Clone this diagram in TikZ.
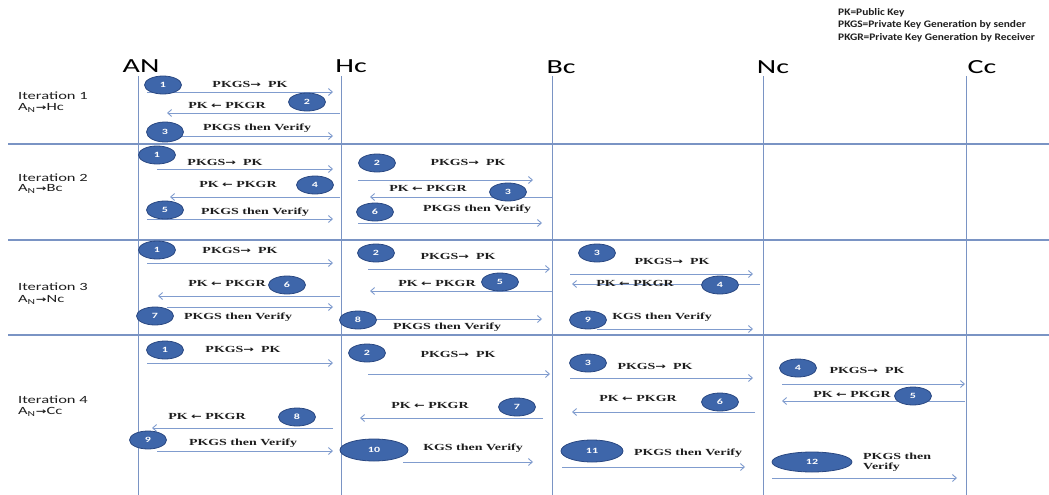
\documentclass[tikz,border=0pt]{standalone}
\usepackage{fontspec}
\setmainfont{Carlito}
\newfontfamily\msgfont{Liberation Serif}
\newfontfamily\djv{DejaVu Sans}
\usetikzlibrary{shapes.geometric,arrows.meta}
\newcommand{\hs}[1]{\scalebox{1.5}[1]{#1}}
\newcommand{\arr}[1]{{\djv\bfseries\fontsize{8.5}{8.5}\selectfont #1}}
\newcommand{\pka}{\hs{PKGS\arr{→}\enspace PK}}
\newcommand{\pkb}{\hs{PK \arr{←} PKGR}}
\newcommand{\pkc}{\hs{PKGS then Verify}}
\newcommand{\itl}[1]{\hs{A\textsubscript{N}{\djv\bfseries\fontsize{8.5}{8.5}\selectfont →}#1}}
\newcommand{\legsc}[1]{\scalebox{1.14}[1]{#1}}
\definecolor{linecol}{RGB}{122,148,196}
\definecolor{arrowcol}{RGB}{128,156,206}
\definecolor{badgefill}{RGB}{62,102,170}
\definecolor{badgedraw}{RGB}{42,72,130}
\definecolor{txt}{RGB}{30,30,30}
\tikzset{
  badge/.style={ellipse, fill=badgefill, draw=badgedraw, line width=0.8pt,
    minimum width=37pt, minimum height=18pt, inner sep=0pt, text=white,
    font=\bfseries\fontsize{8}{8}\selectfont},
  lbl/.style={font=\msgfont\bfseries\fontsize{9.3}{10}\selectfont, inner sep=0pt, text=txt},
  msg/.style={draw=arrowcol, line width=0.9pt, -{Straight Barb[length=4pt,width=7pt]}},
  life/.style={draw=linecol, line width=1pt},
  sep/.style={draw=linecol, line width=1.3pt},
  head/.style={font=\fontsize{20}{20}\selectfont, inner sep=0pt},
  itn/.style={font=\fontsize{11}{11}\selectfont, anchor=west, inner sep=0pt, text=txt},
  leg/.style={font=\bfseries\fontsize{10}{10}\selectfont, anchor=west, inner sep=0pt, text=txt}
}
\begin{document}
\begin{tikzpicture}[x=1pt,y=-1pt]
\useasboundingbox (0,0) rectangle (1049,495);
% legend
\node[leg] (l1) at (838,13) {\legsc{PK=Public Key}};
\node[leg] (l2) at (838,25) {\legsc{PKGS=Private Key Generation by sender}};
\node[leg] (l3) at (838,38) {\legsc{PKGR=Private Key Generation by Receiver}};
% headers
\node[head] (hAN) at (141,66) {\hs{AN}};
\node[head] (hHc) at (351,66) {\hs{Hc}};
\node[head] (hBc) at (561,67) {\hs{Bc}};
\node[head] (hNc) at (773,67) {\hs{Nc}};
\node[head] (hCc) at (982,67) {\hs{Cc}};
% lifelines
\path (138,76) coordinate (ANt) (138,495) coordinate (ANb)
      (341,76) coordinate (Hct) (341,495) coordinate (Hcb)
      (552,76) coordinate (Bct) (552,495) coordinate (Bcb)
      (763,76) coordinate (Nct) (763,495) coordinate (Ncb)
      (966,76) coordinate (Cct) (966,495) coordinate (Ccb);
\draw[life] (ANt) -- (ANb);
\draw[life] (Hct) -- (Hcb);
\draw[life] (Bct) -- (Bcb);
\draw[life] (Nct) -- (Ncb);
\draw[life] (Cct) -- (Ccb);
% separators
\path (8,144) coordinate (s1l) (1049,144) coordinate (s1r)
      (8,240) coordinate (s2l) (1049,240) coordinate (s2r)
      (8,335) coordinate (s3l) (1049,335) coordinate (s3r);
\draw[sep] (s1l) -- (s1r);
\draw[sep] (s2l) -- (s2r);
\draw[sep] (s3l) -- (s3r);
% iteration labels
\node[itn] (it1) at (18,96) {\hs{Iteration 1}};
\node[itn] (it1b) at (18,108) {\itl{Hc}};
\node[itn] (it2) at (18,178) {\hs{Iteration 2}};
\node[itn] (it2b) at (18,189) {\itl{Bc}};
\node[itn] (it3) at (18,287) {\hs{Iteration 3}};
\node[itn] (it3b) at (18,300) {\itl{Nc}};
\node[itn] (it4) at (18,400) {\hs{Iteration 4}};
\node[itn] (it4b) at (18,412) {\itl{Cc}};
% message end points
\path (147,92) coordinate (m1as) (333,92) coordinate (m1ae)
      (340,113) coordinate (m1bs) (167,113) coordinate (m1be)
      (148,136) coordinate (m1cs) (333,136) coordinate (m1ce)
      (157,169) coordinate (m2as) (333,169) coordinate (m2ae)
      (340,197) coordinate (m2bs) (170,197) coordinate (m2be)
      (147,219) coordinate (m2cs) (333,219) coordinate (m2ce)
      (358,180) coordinate (m2ds) (533,180) coordinate (m2de)
      (552,197) coordinate (m2es) (370,197) coordinate (m2ee)
      (358,223) coordinate (m2fs) (542,223) coordinate (m2fe)
      (147,263) coordinate (m3as) (333,263) coordinate (m3ae)
      (340,296) coordinate (m3bs) (158,296) coordinate (m3be)
      (167,307) coordinate (m3cs) (333,307) coordinate (m3ce)
      (368,269) coordinate (m3ds) (550,269) coordinate (m3de)
      (552,291) coordinate (m3es) (370,291) coordinate (m3ee)
      (368,319) coordinate (m3fs) (542,319) coordinate (m3fe)
      (570,274) coordinate (m3gs) (753,274) coordinate (m3ge)
      (760,284) coordinate (m3hs) (572,284) coordinate (m3he)
      (597,329) coordinate (m3is) (753,329) coordinate (m3ie)
      (147,363) coordinate (m4as) (333,363) coordinate (m4ae)
      (333,428) coordinate (m4bs) (152,428) coordinate (m4be)
      (157,451) coordinate (m4cs) (333,451) coordinate (m4ce)
      (368,374) coordinate (m4ds) (550,374) coordinate (m4de)
      (543,418) coordinate (m4es) (360,418) coordinate (m4ee)
      (403,462) coordinate (m4fs) (533,462) coordinate (m4fe)
      (570,378) coordinate (m4gs) (753,378) coordinate (m4ge)
      (755,412) coordinate (m4hs) (572,412) coordinate (m4he)
      (562,467) coordinate (m4is) (745,467) coordinate (m4ie)
      (782,384) coordinate (m4js) (965,384) coordinate (m4je)
      (965,401) coordinate (m4ks) (782,401) coordinate (m4ke)
      (772,478) coordinate (m4ls) (957,478) coordinate (m4le);
\foreach \m in {m1a,m1b,m1c,m2a,m2b,m2c,m2d,m2e,m2f,m3a,m3b,m3c,m3d,m3e,m3f,m3g,m3h,m3i,
                m4a,m4b,m4c,m4d,m4e,m4f,m4g,m4h,m4i,m4j,m4k,m4l}
  \draw[msg] (\m s) -- (\m e);
% labels
\node[lbl] (t1a) at (250,84) {\pka};
\node[lbl] (t1b) at (227,105) {\pkb};
\node[lbl] (t1c) at (257,128) {\pkc};
\node[lbl] (t2a) at (225,162) {\pka};
\node[lbl] (t2b) at (238,184) {\pkb};
\node[lbl] (t2c) at (255,212) {\pkc};
\node[lbl] (t2d) at (468,162) {\pka};
\node[lbl] (t2e) at (428,188) {\pkb};
\node[lbl] (t2f) at (477,209) {\pkc};
\node[lbl] (t3a) at (240,250) {\pka};
\node[lbl] (t3b) at (227,283) {\pkb};
\node[lbl] (t3c) at (238,317) {\pkc};
\node[lbl] (t3d) at (458,256) {\pka};
\node[lbl] (t3e) at (437,283) {\pkb};
\node[lbl] (t3f) at (447,327) {\pkc};
\node[lbl] (t3g) at (672,261) {\pka};
\node[lbl] (t3h) at (635,283) {\pkb};
\node[lbl] (t3i) at (662,317) {\hs{KGS then Verify}};
\node[lbl] (t4a) at (243,349) {\pka};
\node[lbl] (t4b) at (207,416) {\pkb};
\node[lbl] (t4c) at (243,443) {\pkc};
\node[lbl] (t4d) at (458,354) {\pka};
\node[lbl] (t4e) at (430,405) {\pkb};
\node[lbl] (t4f) at (473,448) {\hs{KGS then Verify}};
\node[lbl] (t4g) at (655,366) {\pka};
\node[lbl] (t4h) at (638,398) {\pkb};
\node[lbl] (t4i) at (688,453) {\pkc};
\node[lbl] (t4j) at (867,370) {\pka};
\node[lbl] (t4k) at (852,394) {\pkb};
\node[lbl, anchor=north west, align=left] (t4l) at (863,453) {\hs{PKGS then}\\\hs{Verify}};
% badges
\node[badge] (b11) at (163,85) {\hs{1}};
\node[badge] (b12) at (307,102) {\hs{2}};
\node[badge, minimum height=20pt] (b13) at (165,132) {\hs{3}};
\node[badge] (b21) at (157,155) {\hs{1}};
\node[badge] (b24) at (315,185) {\hs{4}};
\node[badge] (b25) at (165,210) {\hs{5}};
\node[badge] (b22) at (377,163) {\hs{2}};
\node[badge] (b23) at (508,192) {\hs{3}};
\node[badge] (b26) at (375,212) {\hs{6}};
\node[badge] (b31) at (157,250) {\hs{1}};
\node[badge] (b36) at (287,285) {\hs{6}};
\node[badge] (b37) at (155,316) {\hs{7}};
\node[badge] (b32) at (376,253) {\hs{2}};
\node[badge] (b35) at (500,282) {\hs{5}};
\node[badge] (b38) at (358,320) {\hs{8}};
\node[badge] (b33) at (597,253) {\hs{3}};
\node[badge] (b34) at (720,285) {\hs{4}};
\node[badge] (b39) at (588,320) {\hs{9}};
\node[badge] (b41) at (165,350) {\hs{1}};
\node[badge] (b48) at (297,417) {\hs{8}};
\node[badge] (b49) at (148,440) {\hs{9}};
\node[badge] (b42) at (367,353) {\hs{2}};
\node[badge] (b47) at (517,407) {\hs{7}};
\node[badge, minimum width=68pt, minimum height=22pt] (b410) at (374,450) {\hs{10}};
\node[badge] (b43) at (588,363) {\hs{3}};
\node[badge] (b46) at (720,402) {\hs{6}};
\node[badge, minimum width=62pt, minimum height=22pt] (b411) at (592,451) {\hs{11}};
\node[badge] (b44) at (798,368) {\hs{4}};
\node[badge] (b45) at (913,396) {\hs{5}};
\node[badge, minimum width=80pt, minimum height=20pt] (b412) at (812,462) {\hs{12}};
\end{tikzpicture}
\end{document}
